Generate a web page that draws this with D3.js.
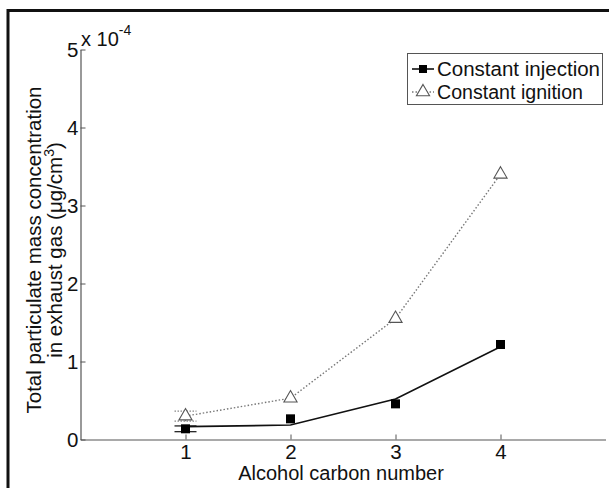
<!DOCTYPE html>
<html>
<head>
<meta charset="utf-8">
<script src="https://cdn.jsdelivr.net/npm/d3@7"></script>
<style>
  html, body { margin: 0; padding: 0; background: #fff; }
  svg { display: block; }
  svg text { font-family: "Liberation Sans", Arial, sans-serif; }
</style>
</head>
<body>
<svg id="chart" width="609" height="488"></svg>
<script>
// Particulate mass concentration (in units of 1e-4 µg/cm³) vs. alcohol carbon number
const carbonNumbers = [1, 2, 3, 4];
const injectionPM = [0.137, 0.265, 0.457, 1.218];
const injectionFit = [0.165, 0.185, 0.52, 1.19];
const injectionErr = [0.037, 0, 0, 0];
const ignitionPM = [0.30, 0.53, 1.55, 3.40];
const ignitionErr = [0.065, 0, 0, 0];
const xTicks = [1, 2, 3, 4];
const yTicks = [0, 1, 2, 3, 4, 5];
const seriesNames = ["Constant injection", "Constant ignition"];

const svg = d3.select("#chart");

// Outer frame: heavy rules along top and left edges
svg.append("line").attr("x1", 7).attr("x2", 609).attr("y1", 10.5).attr("y2", 10.5)
  .attr("stroke", "#111").attr("stroke-width", 3);
svg.append("line").attr("x1", 8).attr("x2", 8).attr("y1", 9).attr("y2", 488)
  .attr("stroke", "#111").attr("stroke-width", 3);

const x = d3.scaleLinear().domain([0, 5]).range([80.5, 605.5]);
const y = d3.scaleLinear().domain([0, 5]).range([439.5, 49.5]);

const axisColor = "#555";
const fmt = d3.format("d");

// Axes with inward ticks
const gx = svg.append("g").attr("transform", `translate(0,${y(0)})`)
  .call(d3.axisBottom(x).tickValues(xTicks).tickFormat(fmt).tickSize(-5).tickSizeOuter(0).tickPadding(5));
const gy = svg.append("g").attr("transform", `translate(${x(0)},0)`)
  .call(d3.axisLeft(y).tickValues(yTicks).tickFormat(fmt).tickSize(-5).tickSizeOuter(0).tickPadding(3));
[gx, gy].forEach(g => {
  g.attr("font-family", null);
  g.select(".domain").attr("stroke", axisColor).attr("stroke-width", 1.2);
  g.selectAll(".tick line").attr("stroke", axisColor);
  g.selectAll(".tick text").attr("fill", "#111").attr("font-size", 20.5);
});
gy.selectAll(".tick text").attr("x", -2).attr("dy", "0.36em");

// Exponent label
const expo = svg.append("text").attr("x", 81).attr("y", 46).attr("font-size", 20).attr("fill", "#111");
expo.append("tspan").text("x 10");
expo.append("tspan").attr("font-size", 14).attr("dy", -11).text("-4");

// Axis titles
svg.append("text").attr("x", 341).attr("y", 480).attr("text-anchor", "middle")
  .attr("font-size", 20).attr("fill", "#111").text("Alcohol carbon number");

const yl = svg.append("g").attr("transform", "translate(0,250) rotate(-90)");
yl.append("text").attr("x", 0).attr("y", 41).attr("text-anchor", "middle")
  .attr("font-size", 20.5).attr("fill", "#111").text("Total particulate mass concentration");
const yl2 = yl.append("text").attr("x", 0).attr("y", 62).attr("text-anchor", "middle")
  .attr("font-size", 20.5).attr("fill", "#111");
yl2.append("tspan").text("in exhaust gas (\u03BCg/cm");
yl2.append("tspan").attr("font-size", 14).attr("dy", -8).text("3");
yl2.append("tspan").attr("dy", 8).text(")");

const plot = svg.append("g");

// Constant ignition: dotted gray line with open triangles
const seriesLine = d3.line().x((d, i) => x(carbonNumbers[i])).y(d => y(d));
plot.append("path").datum(ignitionPM).attr("d", seriesLine)
  .attr("fill", "none").attr("stroke", "#777").attr("stroke-width", 1.4)
  .attr("stroke-dasharray", "1.5,2");

// Error bars
function errorBars(vals, errs, color, dash, capW) {
  vals.forEach((v, i) => {
    if (!errs[i]) return;
    const cx = x(carbonNumbers[i]);
    const g = plot.append("g").attr("stroke", color).attr("stroke-width", 1.2)
      .attr("stroke-dasharray", dash);
    g.append("line").attr("x1", cx).attr("x2", cx).attr("y1", y(v - errs[i])).attr("y2", y(v + errs[i]));
    [v - errs[i], v + errs[i]].forEach(e => {
      g.append("line").attr("x1", cx - capW / 2).attr("x2", cx + capW / 2)
        .attr("y1", y(e)).attr("y2", y(e));
    });
  });
}
errorBars(ignitionPM, ignitionErr, "#888", "1.5,1.5", 22);
errorBars(injectionPM, injectionErr, "#111", null, 22);

const tri = d3.symbol().type(d3.symbolTriangle).size(75);
plot.selectAll(".tri").data(ignitionPM).join("path").attr("class", "tri")
  .attr("d", tri)
  .attr("transform", (d, i) => `translate(${x(carbonNumbers[i])},${y(d)})`)
  .attr("fill", "#fff").attr("stroke", "#555").attr("stroke-width", 1.1);

// Constant injection: solid trend line with filled squares
plot.append("path").datum(injectionFit).attr("d", seriesLine)
  .attr("fill", "none").attr("stroke", "#111").attr("stroke-width", 1.6);
plot.selectAll(".sq").data(injectionPM).join("rect").attr("class", "sq")
  .attr("x", (d, i) => x(carbonNumbers[i]) - 4.5).attr("y", d => y(d) - 4.5)
  .attr("width", 9).attr("height", 9).attr("fill", "#000");

// Legend
const lg = svg.append("g");
lg.append("rect").attr("x", 407.5).attr("y", 53.5).attr("width", 195).attr("height", 51)
  .attr("fill", "#fff").attr("stroke", "#555").attr("stroke-width", 1);
const rows = [69, 92];
lg.append("line").attr("x1", 412).attr("x2", 434).attr("y1", rows[0]).attr("y2", rows[0])
  .attr("stroke", "#111").attr("stroke-width", 1.6);
lg.append("rect").attr("x", 419).attr("y", rows[0] - 4).attr("width", 8).attr("height", 8).attr("fill", "#000");
lg.append("line").attr("x1", 412).attr("x2", 434).attr("y1", rows[1]).attr("y2", rows[1])
  .attr("stroke", "#777").attr("stroke-width", 1.4).attr("stroke-dasharray", "1.5,2");
lg.append("path").attr("d", tri).attr("transform", `translate(423,${rows[1]})`)
  .attr("fill", "#fff").attr("stroke", "#555").attr("stroke-width", 1.1);
const widths = [163, 146];
seriesNames.forEach((name, i) => {
  lg.append("text").attr("x", 437).attr("y", rows[i]).attr("dy", "0.36em")
    .attr("font-size", 19.5).attr("fill", "#111")
    .attr("textLength", widths[i]).attr("lengthAdjust", "spacingAndGlyphs").text(name);
});
</script>
</body>
</html>
